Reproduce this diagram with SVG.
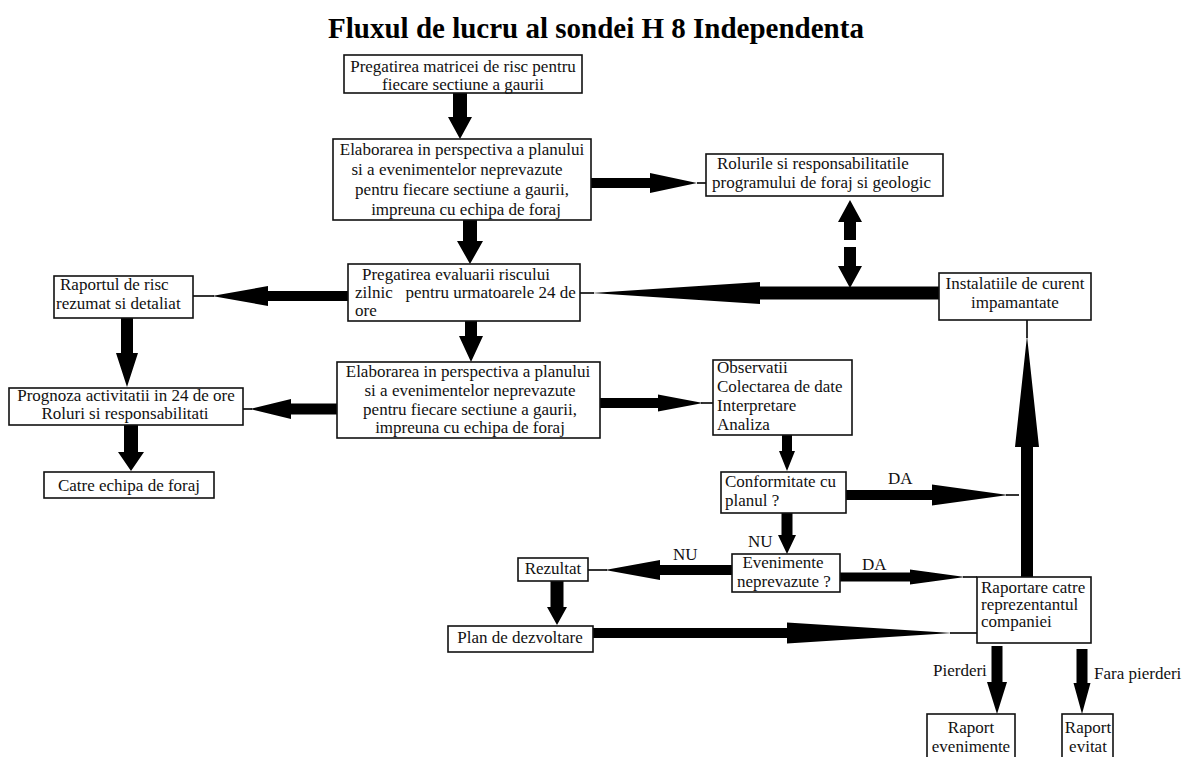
<svg xmlns="http://www.w3.org/2000/svg" width="1184" height="757" viewBox="0 0 1184 757">
<style>
  .box { fill: #fff; stroke: #111; stroke-width: 1.6; }
  .t { font-family: "Liberation Serif", "Times New Roman", serif; font-size: 17px; fill: #111; }
  .c { text-anchor: middle; }
  .title { font-family: "Liberation Serif", "Times New Roman", serif; font-size: 29px; font-weight: bold; fill: #000; text-anchor: middle; }
  .arr { fill: #000; stroke: none; }
  .thin { stroke: #000; stroke-width: 1.6; fill: none; }
</style>
<rect width="1184" height="757" fill="#fff"/>
<text class="title" x="596" y="38">Fluxul de lucru al sondei H 8 Independenta</text>

<g id="connectors">
  <path class="arr" d="M453,93 V117 H448 L460,139 L472,117 H467 V93 Z"/>
  <path class="arr" d="M463,220 V241 H457 L470,264 L483,241 H477 V220 Z"/>
  <path class="arr" d="M465,321 V336 H459 L471,362 L483,336 H477 V321 Z"/>
  <path class="arr" d="M121,318 V353 H116 L127,387 L138,353 H133 V318 Z"/>
  <path class="arr" d="M124,425 V452 H118 L131,471 L144,452 H138 V425 Z"/>
  <path class="arr" d="M782,435 V451 H779 L787,471 L795,451 H792 V435 Z"/>
  <path class="arr" d="M781.5,513 V535 H778 L787,554 L796,535 H792.5 V513 Z"/>
  <path class="arr" d="M550.5,581 V607 H547 L557,625 L567,607 H563.5 V581 Z"/>
  <path class="arr" d="M991.5,646 V682 H987 L997,714 L1007,682 H1002.5 V646 Z"/>
  <path class="arr" d="M1076.5,649 V683 H1073.5 L1082,714 L1090.5,683 H1087.5 V649 Z"/>
  <path class="arr" d="M591,178 H650 V173 L697,183 L650,193 V188 H591 Z"/>
  <line class="thin" x1="697" y1="183" x2="706" y2="183"/>
  <path class="arr" d="M939,286.5 H760 V282 L592,293 L760,304 V299.5 H939 Z"/>
  <line class="thin" x1="580" y1="293" x2="594" y2="293"/>
  <path class="arr" d="M850,200 L862,222 H856 V240 H844 V222 H838 Z"/>
  <path class="arr" d="M844,247 H856 V266 H862 L850,288 L838,266 H844 Z"/>
  <path class="arr" d="M348,291 H268 V286 L212,296 L268,306 V301 H348 Z"/>
  <line class="thin" x1="193" y1="296" x2="214" y2="296"/>
  <path class="arr" d="M337,403.5 H291 V399 L250,409 L291,419 V414.5 H337 Z"/>
  <line class="thin" x1="243" y1="409" x2="252" y2="409"/>
  <path class="arr" d="M600,398 H658 V394.5 L703,403 L658,411.5 V408 H600 Z"/>
  <line class="thin" x1="701" y1="403" x2="713" y2="403"/>
  <path class="arr" d="M846,490 H932 V484.5 L1008,495 L932,505.5 V500 H846 Z"/>
  <line class="thin" x1="1006" y1="495" x2="1019" y2="495"/>
  <path class="arr" d="M732,565 H660 V560 L605,570 L660,580 V575 H732 Z"/>
  <line class="thin" x1="588" y1="570" x2="607" y2="570"/>
  <path class="arr" d="M840,572.5 H910 V569.5 L965,577 L910,584.5 V581.5 H840 Z"/>
  <line class="thin" x1="963" y1="577" x2="977" y2="577"/>
  <path class="arr" d="M593,628 H787 V622.5 L952,633 L787,643.5 V638 H593 Z"/>
  <line class="thin" x1="950" y1="633" x2="977" y2="633"/>
  <path class="arr" d="M1021,577 V447 H1015 L1027,336 L1039,447 H1033 V577 Z"/>
  <line class="thin" x1="1027" y1="320" x2="1027" y2="338"/>
</g>

<g id="labels">
  <text class="t" x="888" y="484">DA</text>
  <text class="t" x="748" y="547">NU</text>
  <text class="t" x="673" y="560">NU</text>
  <text class="t" x="862" y="570">DA</text>
  <text class="t" x="933" y="676">Pierderi</text>
  <text class="t" x="1094" y="679">Fara pierderi</text>
</g>

<g id="n1">
  <rect class="box" x="344" y="55" width="238" height="38"/>
  <text class="t c" x="463" y="72">Pregatirea matricei de risc pentru</text>
  <text class="t c" x="463" y="90">fiecare sectiune a gaurii</text>
</g>
<g id="n2">
  <rect class="box" x="333" y="139" width="258" height="81"/>
  <text class="t c" x="462" y="155">Elaborarea in perspectiva a planului</text>
  <text class="t c" x="457" y="175">si a evenimentelor neprevazute</text>
  <text class="t c" x="462" y="195">pentru fiecare sectiune a gaurii,</text>
  <text class="t c" x="466" y="215">impreuna cu echipa de foraj</text>
</g>
<g id="n3">
  <rect class="box" x="706" y="154" width="237" height="42"/>
  <text class="t" x="717" y="169">Rolurile si responsabilitatile</text>
  <text class="t" x="712" y="188">programului de foraj si geologic</text>
</g>
<g id="n4">
  <rect class="box" x="348" y="264" width="232" height="57"/>
  <text class="t" x="362" y="280">Pregatirea evaluarii  riscului</text>
  <text class="t" x="355" y="298" xml:space="preserve">zilnic   pentru urmatoarele 24 de</text>
  <text class="t" x="355" y="316">ore</text>
</g>
<g id="n5">
  <rect class="box" x="939" y="273" width="152" height="47"/>
  <text class="t c" x="1015" y="289">Instalatiile de curent</text>
  <text class="t c" x="1015" y="308">impamantate</text>
</g>
<g id="n6">
  <rect class="box" x="54" y="276" width="139" height="42"/>
  <text class="t" x="60" y="290">Raportul de risc</text>
  <text class="t" x="56" y="309">rezumat si detaliat</text>
</g>
<g id="n7">
  <rect class="box" x="337" y="362" width="263" height="76"/>
  <text class="t c" x="468" y="377">Elaborarea in perspectiva a planului</text>
  <text class="t c" x="470" y="396">si a evenimentelor neprevazute</text>
  <text class="t c" x="470" y="415">pentru fiecare sectiune a gaurii,</text>
  <text class="t c" x="470" y="433">impreuna cu echipa de foraj</text>
</g>
<g id="n8">
  <rect class="box" x="9" y="388" width="234" height="37"/>
  <text class="t c" x="126" y="401">Prognoza activitatii in 24 de ore</text>
  <text class="t c" x="125" y="419">Roluri si responsabilitati</text>
</g>
<g id="n9">
  <rect class="box" x="44" y="472" width="170" height="26"/>
  <text class="t c" x="129" y="491">Catre echipa de foraj</text>
</g>
<g id="n10">
  <rect class="box" x="713" y="360" width="139" height="75"/>
  <text class="t" x="717" y="373">Observatii</text>
  <text class="t" x="717" y="392">Colectarea de date</text>
  <text class="t" x="717" y="411">Interpretare</text>
  <text class="t" x="717" y="430">Analiza</text>
</g>
<g id="n11">
  <rect class="box" x="721" y="472" width="125" height="41"/>
  <text class="t" x="725" y="487">Conformitate cu</text>
  <text class="t" x="725" y="506">planul ?</text>
</g>
<g id="n12">
  <rect class="box" x="732" y="554" width="108" height="38"/>
  <text class="t c" x="783" y="568">Evenimente</text>
  <text class="t" x="737" y="587">neprevazute ?</text>
</g>
<g id="n13">
  <rect class="box" x="518" y="558" width="70" height="23"/>
  <text class="t c" x="553" y="574">Rezultat</text>
</g>
<g id="n14">
  <rect class="box" x="448" y="626" width="145" height="26"/>
  <text class="t c" x="520" y="643">Plan de dezvoltare</text>
</g>
<g id="n15">
  <rect class="box" x="977" y="577" width="114" height="66"/>
  <text class="t" x="981" y="593">Raportare catre</text>
  <text class="t" x="981" y="610">reprezentantul</text>
  <text class="t" x="981" y="627">companiei</text>
</g>
<g id="n16">
  <rect class="box" x="927" y="714" width="88" height="50"/>
  <text class="t c" x="971" y="733">Raport</text>
  <text class="t c" x="971" y="752">evenimente</text>
</g>
<g id="n17">
  <rect class="box" x="1062" y="714" width="51" height="50"/>
  <text class="t c" x="1088" y="733">Raport</text>
  <text class="t c" x="1088" y="752">evitat</text>
</g>
</svg>
